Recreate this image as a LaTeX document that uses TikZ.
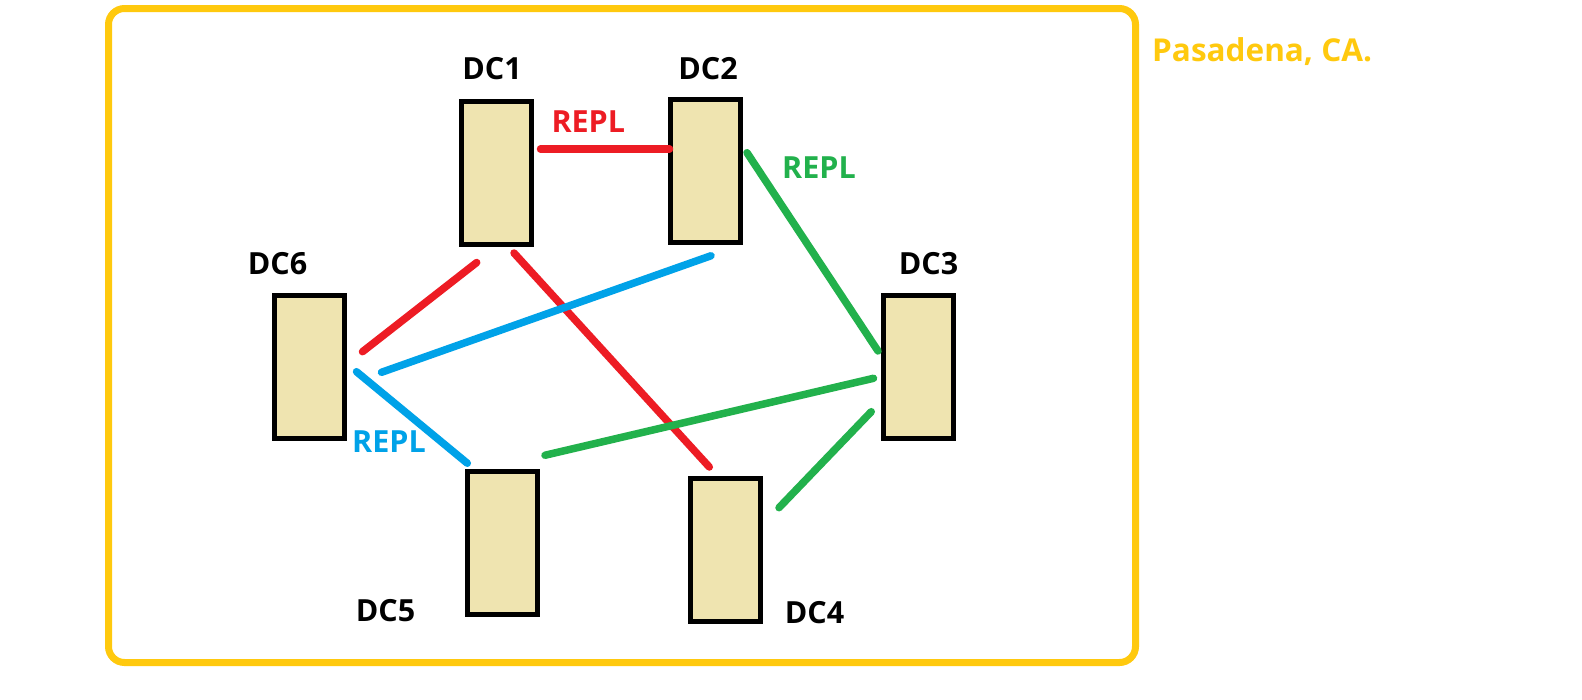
\documentclass[tikz,border=0pt]{standalone}
\usepackage{fontspec}
\setmainfont{Open Sans}
\usetikzlibrary{calc}
\definecolor{pred}{HTML}{ED1C24}
\definecolor{pgreen}{HTML}{22B14C}
\definecolor{pblue}{HTML}{00A2E8}
\definecolor{pyellow}{HTML}{FFC90E}
\definecolor{ptan}{HTML}{EFE4B0}
\begin{document}
\begin{tikzpicture}[x=1pt,y=-1pt,
  dcbox/.style={draw=black,fill=ptan,line width=5pt,minimum width=70pt,minimum height=143pt,inner sep=0pt,outer sep=0pt},
  lbl/.style={font=\fontsize{30.5}{30.5}\selectfont\bfseries,inner sep=0pt,anchor=base},
  link/.style={line width=7.5pt,line cap=round}]
\useasboundingbox (0,0) rectangle (1582,699);
\fill[white] (0,0) rectangle (1582,699);
\draw[pyellow,line width=7pt,rounded corners=16pt] (108.5,8.5) rectangle (1135.5,662.5);
\node[lbl,text=pyellow,anchor=base west,font=\fontsize{31.5}{31.5}\selectfont\bfseries] (city) at (1152,61) {Pasadena, CA.};
\node[dcbox] (dc1) at (496.5,173) {};
\node[dcbox] (dc2) at (705.5,170.5) {};
\node[dcbox] (dc3) at (918,366.5) {};
\node[dcbox] (dc4) at (725,550) {};
\node[dcbox] (dc5) at (502,542.5) {};
\node[dcbox] (dc6) at (309.5,366.5) {};
\node[lbl] (t1) at (492,79) {DC1};
\node[lbl] (t2) at (708,79) {DC2};
\node[lbl] (t3) at (928.5,274) {DC3};
\node[lbl] (t4) at (814.5,623) {DC4};
\node[lbl] (t5) at (385.5,621) {DC5};
\node[lbl] (t6) at (277.5,274) {DC6};
\node[lbl,text=pred] (r1) at (588.3,132.3) {REPL};
\node[lbl,text=pgreen] (r2) at (819,178.3) {REPL};
\node[lbl,text=pblue] (r3) at (389,452.3) {REPL};
\draw[link,pred] ($(dc1.east)+(9,-24)$) -- ($(dc2.west)+(-1,-21.5)$);
\draw[link,pred] ($(dc6.east)+(18,-14.8)$) -- ($(dc1.south)+(-19.8,18)$);
\draw[link,pred] ($(dc1.south)+(17.5,8.5)$) -- ($(dc4.north)+(-15.7,-11.5)$);
\draw[link,pblue] ($(dc6.east)+(37,5.8)$) -- ($(dc2.south)+(5.5,13.75)$);
\draw[link,pblue] ($(dc6.east)+(12,5.2)$) -- ($(dc5.north)+(-34.7,-7.75)$);
\draw[link,pgreen] ($(dc2.east)+(6.5,-17.8)$) -- ($(dc3.west)+(-5,-15.5)$);
\draw[link,pgreen] ($(dc5.north)+(43,-15.75)$) -- ($(dc3.west)+(-9.5,11.8)$);
\draw[link,pgreen] ($(dc4.east)+(19,-42.3)$) -- ($(dc3.west)+(-11.75,45.2)$);
\end{tikzpicture}
\end{document}
